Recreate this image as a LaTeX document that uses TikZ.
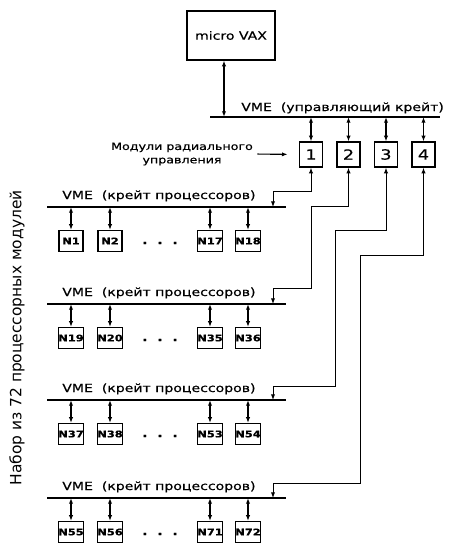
\documentclass[tikz,border=0pt]{standalone}
\usepackage{fontspec}
\newfontfamily\diagfont{DejaVu Sans}[FakeStretch=1.25,FakeBold=0.6]
\newfontfamily\sidefont{DejaVu Sans}
\usetikzlibrary{arrows.meta}

\begin{document}
\begin{tikzpicture}[x=0.025cm, y=-0.025cm,
		>={Latex[length=4pt,width=3pt]},
		bus/.style={line width=2pt},
		link/.style={<->, line width=0.8pt},
		feed/.style={<->, line width=0.7pt},
		cpu/.style={draw, line width=0.9pt, inner sep=0pt, minimum width=0.6cm, minimum height=0.525cm, font=\diagfont\fontsize{6.5}{6.5}\selectfont\bfseries},
		rmod/.style={draw, line width=0.9pt, inner sep=0pt, minimum width=0.575cm, minimum height=0.625cm, font=\diagfont\fontsize{10}{10}\selectfont},
		buslabel/.style={anchor=base west, inner sep=0pt, font=\diagfont\fontsize{8}{8}\selectfont},
		dots/.style={font=\diagfont\fontsize{8}{8}\selectfont\bfseries}]
		\useasboundingbox (0,0) rectangle (448,546);
		% управляющая ЭВМ
		\node[draw, line width=0.9pt, minimum width=2.2cm, minimum height=1.225cm, font=\diagfont\fontsize{8}{8}\selectfont] (vax) at (231,35.5) {micro VAX};
		% управляющий крейт
		\coordinate (ctrlw) at (210,117);
		\coordinate (ctrle) at (440,117);
		\draw[bus] (ctrlw) -- (ctrle);
		\node[buslabel] (ctrllabel) at (241,111) {VME~~(управляющий крейт)};
		\draw[link] ([xshift=-0.175cm]vax.south) -- ([xshift=-0.175cm]vax.south |- ctrlw);
		% модули радиального управления
		\node[rmod] (m1) at (311,154.5) {1};
		\node[rmod] (m2) at (348.5,154.5) {2};
		\node[rmod] (m3) at (386,154.5) {3};
		\node[rmod] (m4) at (423.5,154.5) {4};
		\draw[link] (m1.north) -- (m1.north |- ctrlw);
		\draw[link] (m2.north) -- (m2.north |- ctrlw);
		\draw[link] (m3.north) -- (m3.north |- ctrlw);
		\draw[link] (m4.north) -- (m4.north |- ctrlw);
		\node[align=center, inner sep=0pt, font=\diagfont\fontsize{7.2}{9.5}\selectfont] (mlabel) at (182,154) {Модули радиального\\управления};
		\draw[->, line width=0.8pt, shorten <=3pt, shorten >=8pt] (mlabel.east) -- (m1.west);
		% крейт 1
		\coordinate (b1w) at (47,207);
		\coordinate (b1e) at (286,207);
		\coordinate (f1) at (273,207);
		\draw[bus] (b1w) -- (b1e);
		\node[buslabel] (l1) at (62,199) {VME~~(крейт процессоров)};
		\node[cpu] (n1) at (71,241) {N1};
		\node[cpu] (n2) at (110,241) {N2};
		\node[dots] (d1) at (160,243) {.~~.~~.};
		\node[cpu] (n17) at (210,241) {N17};
		\node[cpu] (n18) at (248,241) {N18};
		\draw[link] (n1.north) -- (n1.north |- b1w);
		\draw[link] (n2.north) -- (n2.north |- b1w);
		\draw[link] (n17.north) -- (n17.north |- b1w);
		\draw[link] (n18.north) -- (n18.north |- b1w);
		% крейт 2
		\coordinate (b2w) at (47,304);
		\coordinate (b2e) at (286,304);
		\coordinate (f2) at (273,304);
		\draw[bus] (b2w) -- (b2e);
		\node[buslabel] (l2) at (62,296) {VME~~(крейт процессоров)};
		\node[cpu] (n19) at (71,338) {N19};
		\node[cpu] (n20) at (110,338) {N20};
		\node[dots] (d2) at (160,340) {.~~.~~.};
		\node[cpu] (n35) at (210,338) {N35};
		\node[cpu] (n36) at (248,338) {N36};
		\draw[link] (n19.north) -- (n19.north |- b2w);
		\draw[link] (n20.north) -- (n20.north |- b2w);
		\draw[link] (n35.north) -- (n35.north |- b2w);
		\draw[link] (n36.north) -- (n36.north |- b2w);
		% крейт 3
		\coordinate (b3w) at (47,400);
		\coordinate (b3e) at (286,400);
		\coordinate (f3) at (273,400);
		\draw[bus] (b3w) -- (b3e);
		\node[buslabel] (l3) at (62,392) {VME~~(крейт процессоров)};
		\node[cpu] (n37) at (71,434) {N37};
		\node[cpu] (n38) at (110,434) {N38};
		\node[dots] (d3) at (160,436) {.~~.~~.};
		\node[cpu] (n53) at (210,434) {N53};
		\node[cpu] (n54) at (248,434) {N54};
		\draw[link] (n37.north) -- (n37.north |- b3w);
		\draw[link] (n38.north) -- (n38.north |- b3w);
		\draw[link] (n53.north) -- (n53.north |- b3w);
		\draw[link] (n54.north) -- (n54.north |- b3w);
		% крейт 4
		\coordinate (b4w) at (47,498);
		\coordinate (b4e) at (286,498);
		\coordinate (f4) at (273,498);
		\draw[bus] (b4w) -- (b4e);
		\node[buslabel] (l4) at (62,490) {VME~~(крейт процессоров)};
		\node[cpu] (n55) at (71,532) {N55};
		\node[cpu] (n56) at (110,532) {N56};
		\node[dots] (d4) at (160,534) {.~~.~~.};
		\node[cpu] (n71) at (210,532) {N71};
		\node[cpu] (n72) at (248,532) {N72};
		\draw[link] (n55.north) -- (n55.north |- b4w);
		\draw[link] (n56.north) -- (n56.north |- b4w);
		\draw[link] (n71.north) -- (n71.north |- b4w);
		\draw[link] (n72.north) -- (n72.north |- b4w);
		% линии от модулей к крейтам
		\draw[feed] (m1.south) |- (273,191) -- (f1);
		\draw[feed] (m2.south) |- (311,206) |- (273,288) -- (f2);
		\draw[feed] (m3.south) |- (335,230) |- (273,386) -- (f3);
		\draw[feed] (m4.south) |- (360,255) |- (273,483) -- (f4);
		% подпись слева
		\node[rotate=90, font=\sidefont\fontsize{11}{11}\selectfont] (side) at (17,338) {Набор из 72 процессорных модулей};
		\end{tikzpicture}
\end{document}
